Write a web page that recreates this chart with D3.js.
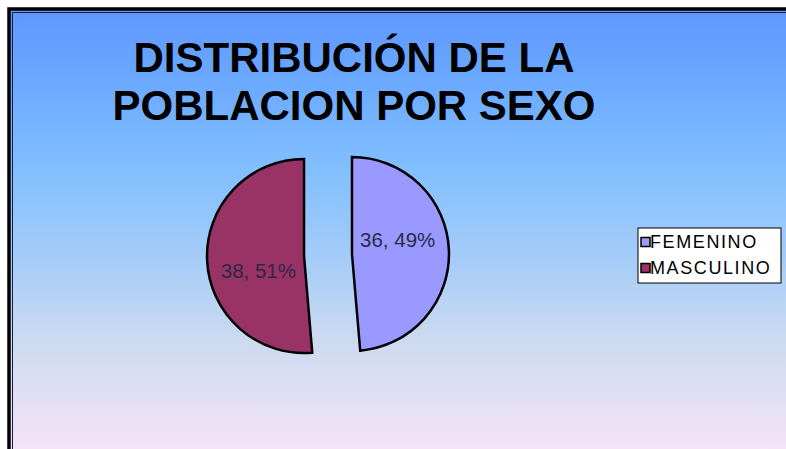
<!DOCTYPE html>
<html>
<head>
<meta charset="utf-8">
<script src="https://cdn.jsdelivr.net/npm/d3@7"></script>
<style>
  body { margin: 0; background: #ffffff; }
  svg { display: block; }
</style>
</head>
<body>
<svg id="chart"></svg>
<script>
// chart data
var categories = ["FEMENINO", "MASCULINO"];
var values = [36, 38];
var sliceColors = ["#9999FF", "#993366"];
var titleLines = ["DISTRIBUCIÓN DE LA", "POBLACION POR SEXO"];

var dimensions = { width: 786, height: 449 };

var svg = d3.select("#chart")
    .attr("width", dimensions.width)
    .attr("height", dimensions.height);

// background gradient (blue top -> pinkish bottom)
var defs = svg.append("defs");
var grad = defs.append("linearGradient")
    .attr("id", "bg")
    .attr("x1", 0).attr("y1", 0)
    .attr("x2", 0).attr("y2", 1);
[["0", "#5E97FF"], ["0.15", "#6AA8FF"], ["0.35", "#82BFFF"], ["0.55", "#A6CDF8"],
 ["0.72", "#CCDAF0"], ["0.86", "#E4E0F4"], ["1", "#FCE6F8"]].forEach(function(s) {
    grad.append("stop").attr("offset", s[0]).attr("stop-color", s[1]);
});

svg.append("rect")
    .attr("x", 9).attr("y", 9)
    .attr("width", 800).attr("height", 460)
    .attr("fill", "url(#bg)")
    .attr("stroke", "#000")
    .attr("stroke-width", 3.5);

// thin inner frame line
svg.append("path")
    .attr("d", "M12.5,460 V12.5 H800")
    .attr("fill", "none")
    .attr("stroke", "#1a1a3a")
    .attr("stroke-width", 1);

// title
svg.append("g")
    .selectAll("text")
    .data(titleLines)
    .enter().append("text")
    .attr("x", 354)
    .attr("y", function(d, i) { return 72 + i * 48; })
    .attr("text-anchor", "middle")
    .style("font-family", "'Liberation Sans', Arial, sans-serif")
    .style("font-weight", "bold")
    .style("font-size", "42px")
    .style("fill", "#000")
    .text(function(d) { return d; });

// pie (starts at 12 o'clock, clockwise, slices pulled apart)
var cx = 328, cy = 255, radius = 97, explode = 24;
var total = d3.sum(values);
var pieData = d3.pie().sort(null)(values);

var arc = d3.arc().innerRadius(0).outerRadius(radius);

var slices = svg.append("g")
    .attr("transform", "translate(" + cx + "," + cy + ")")
    .selectAll(".slice")
    .data(pieData)
    .enter().append("g")
    .attr("class", "slice")
    .attr("transform", function(d) {
        var mid = (d.startAngle + d.endAngle) / 2;
        return "translate(" + (explode * Math.sin(mid)) + "," + (-explode * Math.cos(mid)) + ")";
    });

slices.append("path")
    .attr("d", arc)
    .attr("fill", function(d, i) { return sliceColors[i]; })
    .attr("stroke", "#000")
    .attr("stroke-width", 2.5);

// data labels "value, pct%"
slices.append("text")
    .attr("transform", function(d) {
        var a = (d.startAngle + d.endAngle) / 2 - 0.27;
        return "translate(" + (48 * Math.sin(a)) + "," + (-48 * Math.cos(a)) + ")";
    })
    .attr("dy", "0.36em")
    .attr("text-anchor", "middle")
    .style("font-family", "'Liberation Sans', Arial, sans-serif")
    .style("font-size", "20.5px")
    .style("fill", "#2a2a48")
    .text(function(d) { return d.value + ", " + Math.round(d.value / total * 100) + "%"; });

// legend
var legend = svg.append("g").attr("transform", "translate(638,228)");
legend.append("rect")
    .attr("width", 143).attr("height", 55)
    .attr("fill", "#fff")
    .attr("stroke", "#000")
    .attr("stroke-width", 1);

var items = legend.selectAll(".item")
    .data(categories)
    .enter().append("g")
    .attr("class", "item")
    .attr("transform", function(d, i) { return "translate(0," + (14 + i * 26) + ")"; });

items.append("rect")
    .attr("x", 3).attr("y", -4.5)
    .attr("width", 9).attr("height", 9)
    .attr("fill", function(d, i) { return sliceColors[i]; })
    .attr("stroke", "#000")
    .attr("stroke-width", 1.5);

items.append("text")
    .attr("x", 12)
    .attr("dy", "0.36em")
    .style("font-family", "'Liberation Sans', Arial, sans-serif")
    .style("font-size", "18px")
    .style("letter-spacing", "1.6px")
    .style("fill", "#000")
    .text(function(d) { return d; });
</script>
</body>
</html>
